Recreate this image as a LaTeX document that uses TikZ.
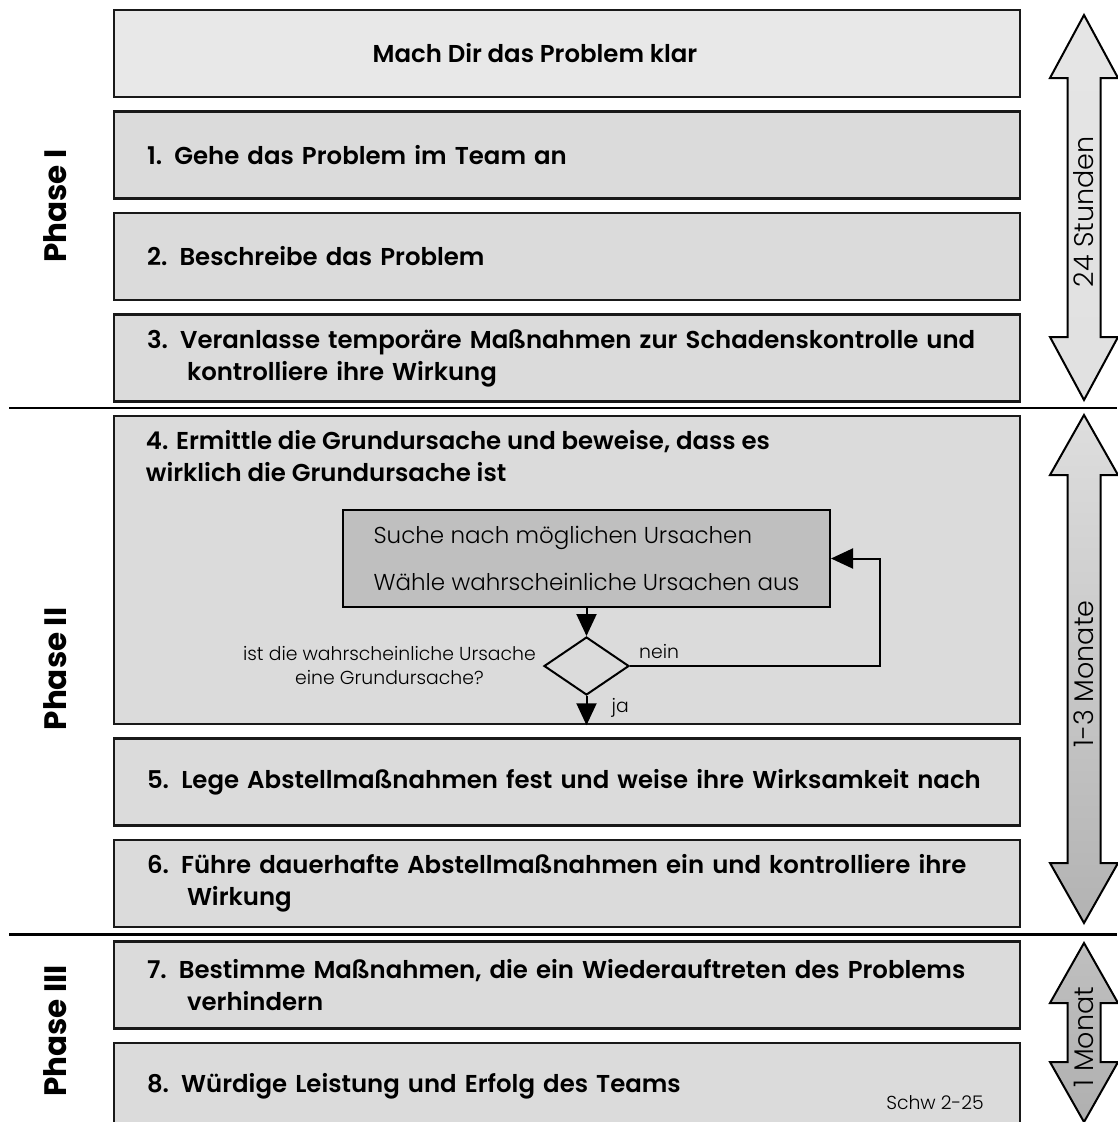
\documentclass[tikz,border=0pt]{standalone}
\usepackage{fontspec}
\setmainfont{Poppins}
\newfontfamily\halbfett{Poppins SemiBold}
\newfontfamily\leicht{Poppins Light}
\usetikzlibrary{positioning, shapes.geometric, arrows.meta}

\tikzstyle{stufe} = [rectangle, draw=black!90, line width=2.5pt, fill=black!14, minimum width=906pt, minimum height=87pt, text width=840pt, inner xsep=33pt, align=left, font=\halbfett\fontsize{24.4}{32}\selectfont]
\tikzstyle{kopf} = [inner sep=0pt, align=left, font=\halbfett\fontsize{24.4}{32}\selectfont]
\tikzstyle{phase} = [rotate=90, font=\bfseries\fontsize{31}{31}\selectfont]
\tikzstyle{suchbox} = [rectangle, draw=black, line width=2pt, fill=black!25, minimum width=487pt, minimum height=97pt, align=left, font=\leicht\fontsize{23}{47}\selectfont]
\tikzstyle{raute} = [diamond, draw=black, line width=2pt, minimum width=85pt, minimum height=58pt, inner sep=0pt]
\tikzstyle{klein} = [inner sep=0pt, font=\leicht\fontsize{18.8}{24}\selectfont]
\tikzstyle{pfeil} = [line width=2pt, -{Triangle[length=22pt, width=20pt]}]
\tikzstyle{dauer} = [draw=black, line width=2pt]
\tikzstyle{dauertext} = [rotate=90, font=\leicht\fontsize{27}{27}\selectfont]
\tikzstyle{trenner} = [line width=2.5pt]

\begin{document}
\begin{tikzpicture}[x=1pt, y=-1pt, node distance=12pt]
\useasboundingbox (0,0) rectangle (1117,1122);

% die acht Schritte
\node (s0) [stufe, fill=black!9] at (567,53.5) {};
\node (s0text) [kopf, xshift=-32pt] at (s0) {Mach Dir das Problem klar};
\node (s1) [stufe, below=of s0] {1. Gehe das Problem im Team an};
\node (s2) [stufe, below=of s1] {2. Beschreibe das Problem};
\node (s3) [stufe, below=of s2] {3. Veranlasse temporäre Maßnahmen zur Schadenskontrolle und\\\hspace*{40pt}kontrolliere ihre Wirkung};
\node (s4) [stufe, below=of s3, minimum height=308pt] {};
\node (s4text) [kopf, anchor=north west] at ([shift={(33,15)}]s4.north west) {4. Ermittle die Grundursache und beweise, dass es\\wirklich die Grundursache ist};
\node (s5) [stufe, below=of s4] {5. Lege Abstellmaßnahmen fest und weise ihre Wirksamkeit nach};
\node (s6) [stufe, below=of s5] {6. Führe dauerhafte Abstellmaßnahmen ein und kontrolliere ihre\\\hspace*{40pt}Wirkung};
\node (s7) [stufe, below=of s6] {7. Bestimme Maßnahmen, die ein Wiederauftreten des Problems\\\hspace*{40pt}verhindern};
\node (s8) [stufe, below=of s7] {8. Würdige Leistung und Erfolg des Teams};
\node (kennung) [klein] at (935,1103) {Schw 2-25};

% Ursachenanalyse in Schritt 4
\node (ursachen) [suchbox] at (586.5,558.5) {Suche nach möglichen Ursachen\\Wähle wahrscheinliche Ursachen aus};
\node (frage) [raute, below=28pt of ursachen] {};
\node (fragetext) [klein, align=center, left=7pt of frage] {ist die wahrscheinliche Ursache\\eine Grundursache?};
\draw [pfeil] (ursachen) -- (frage);
\draw [pfeil] (frage.east) -- ++(250,0) |- (ursachen.east);
\draw [pfeil] (frage.south) -- (frage.south |- s4.south);
\node (nein) [klein, anchor=south west] at ([shift={(9,-7)}]frage.east) {nein};
\node (ja) [klein, anchor=west] at ([shift={(25,12)}]frage.south) {ja};

% Phasen
\draw [trenner] (9,408) -- (1117,408);
\draw [trenner] (9,934.5) -- (1117,934.5);
\node (phase1) [phase] at (55,206) {Phase I};
\node (phase2) [phase] at (55,669) {Phase II};
\node (phase3) [phase] at (55,1031) {Phase III};

% Zeitraeume
\draw [dauer, top color=black!10, bottom color=black!12] (1084,15) -- (1118,78) -- (1100.5,78) -- (1100.5,337) -- (1118,337) -- (1084,400) -- (1050,337) -- (1067.5,337) -- (1067.5,78) -- (1050,78) -- cycle;
\draw [dauer, top color=black!13, bottom color=black!30] (1084,415) -- (1118,475) -- (1100.5,475) -- (1100.5,863) -- (1118,863) -- (1084,923) -- (1050,863) -- (1067.5,863) -- (1067.5,475) -- (1050,475) -- cycle;
\draw [dauer, top color=black!25, bottom color=black!31] (1084,943) -- (1118,1003) -- (1100.5,1003) -- (1100.5,1062) -- (1118,1062) -- (1084,1122) -- (1050,1062) -- (1067.5,1062) -- (1067.5,1003) -- (1050,1003) -- cycle;
\node (stunden) [dauertext] at (1084,212) {24 Stunden};
\node (monate) [dauertext] at (1084,674) {1-3 Monate};
\node (monat) [dauertext] at (1084,1037) {1 Monat};
\end{tikzpicture}
\end{document}
